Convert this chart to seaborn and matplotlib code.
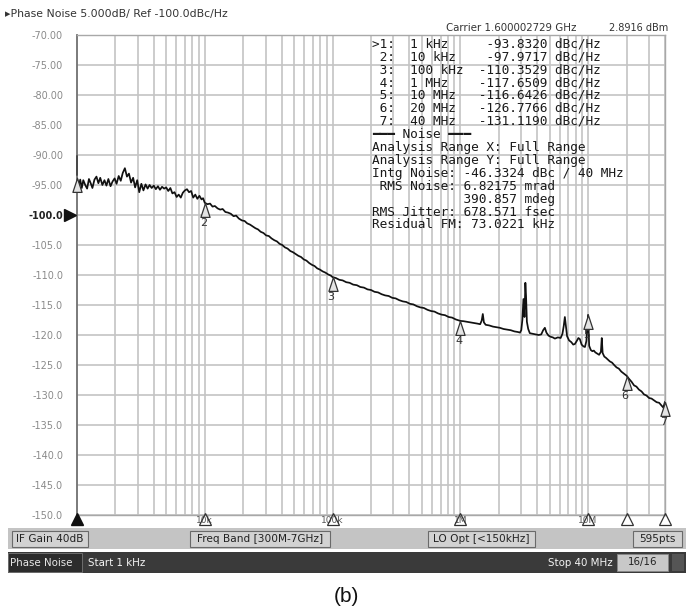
import numpy as np
import pandas as pd
import matplotlib
matplotlib.use("Agg")
import matplotlib.pyplot as plt
from matplotlib.patches import Rectangle
from matplotlib.markers import MarkerStyle
from matplotlib.path import Path
from matplotlib.ticker import FixedLocator, NullFormatter, LogLocator
import seaborn as sns

# ---------------- data ----------------
freq_khz = [
    1.00, 1.03, 1.06, 1.09, 1.12, 1.16, 1.20, 1.24, 1.28, 1.32, 1.37, 1.42, 1.47, 1.52,
    1.58, 1.64, 1.70, 1.76, 1.83, 1.90, 1.97, 2.04, 2.12, 2.20, 2.28, 2.37, 2.46, 2.55,
    2.65, 2.75, 2.85, 2.96, 3.07, 3.19, 3.31, 3.44, 3.57, 3.70, 3.84, 3.99, 4.14, 4.30,
    4.46, 4.63, 4.81, 4.99, 5.18, 5.38, 5.58, 5.80, 6.02, 6.25, 6.49, 6.73, 6.99, 7.26,
    7.53, 7.82, 8.12, 8.43, 8.75, 9.08, 9.43, 9.70, 10.0,
    10.5, 11.0, 11.5, 12.0, 12.6, 13.2, 13.8, 14.5, 15.2, 16.0, 16.8, 17.6, 18.5, 19.5,
    20.5, 21.5, 22.6, 23.7, 24.9, 26.1, 27.4, 28.8, 30.2, 31.7, 33.3, 35.0, 36.7, 38.5,
    40.4, 42.4, 44.5, 46.7, 49.0, 51.5, 54.0, 56.7, 59.5, 62.5, 65.6, 68.9, 72.3, 75.9,
    79.7, 83.7, 87.9, 92.3, 96.9, 100,
    106, 113, 120, 128, 136, 145, 155, 165, 176, 188, 200, 213, 227, 242, 258, 275, 293,
    312, 333, 355, 378, 403, 429, 457, 487, 519, 553, 589, 628, 669, 713, 760, 810, 863,
    920, 1000,
    1060, 1130, 1200, 1280, 1360, 1430, 1470, 1500, 1530, 1580, 1680, 1800, 1920, 2040,
    2180, 2330, 2480, 2650, 2820, 2930, 3000, 3060, 3120, 3180, 3230, 3270, 3320, 3400,
    3500, 3700, 3900, 4100, 4300, 4450, 4590, 4720, 4900, 5100, 5300, 5500, 5800, 6100,
    6300, 6450, 6580, 6700, 6850, 7100, 7400, 7650, 7880, 8150, 8400, 8630, 8900, 9200,
    9450, 9700, 10000, 10200, 10500,
    10800, 11100, 11400, 11800, 12200, 12600, 12800, 13000, 13400, 13800, 14300, 14800,
    15400, 16000, 16700, 17400, 18200, 19000, 20000, 20900, 21900, 22900, 23900, 25000,
    26200, 27400, 28700, 30000, 31400, 32900, 34400, 36000, 37700, 38800, 40000,
]
noise_dbc = [
    -93.8, -95.3, -94.1, -95.5, -94.2, -95.0, -95.6, -94.0, -94.7, -95.5, -94.1, -93.6, -94.7, -93.8,
    -95.0, -94.2, -95.1, -94.0, -95.2, -94.4, -93.9, -94.8, -93.5, -94.3, -93.0, -92.2, -93.6, -93.1,
    -94.6, -93.8, -95.4, -94.2, -96.2, -94.8, -95.9, -94.9, -95.6, -95.0, -95.5, -95.1, -95.7, -95.2,
    -95.8, -95.3, -95.6, -95.4, -96.0, -95.5, -96.4, -96.2, -97.0, -96.6, -97.1, -96.3, -95.9, -95.7,
    -96.2, -96.0, -97.1, -96.6, -97.3, -96.8, -97.4, -97.2, -97.97,
    -98.2, -98.1, -98.6, -98.5, -98.9, -99.1, -99.0, -99.5, -99.6, -99.8, -100.2, -100.1, -100.6, -100.9,
    -101.0, -101.4, -101.6, -101.9, -102.2, -102.4, -102.8, -103.0, -103.4, -103.5, -103.9, -104.2, -104.4, -104.8,
    -105.0, -105.4, -105.6, -106.0, -106.2, -106.5, -106.8, -107.0, -107.4, -107.6, -108.0, -108.3, -108.5, -108.9,
    -109.1, -109.4, -109.6, -109.9, -110.1, -110.35,
    -110.5, -110.8, -110.9, -111.2, -111.3, -111.6, -111.7, -112.0, -112.1, -112.4, -112.5, -112.8, -112.9, -113.2,
    -113.4, -113.5, -113.8, -113.9, -114.2, -114.4, -114.5, -114.8, -114.9, -115.2, -115.4, -115.5, -115.8, -116.0,
    -116.1, -116.4, -116.6, -116.7, -117.0, -117.1, -117.4, -117.65,
    -117.7, -117.8, -117.9, -118.0, -118.1, -118.2, -117.6, -116.5, -117.9, -118.3, -118.4, -118.6, -118.7, -118.8,
    -119.0, -119.1, -119.2, -119.4, -119.5, -119.6, -119.2, -117.5, -114.0, -117.0, -111.3, -113.5, -117.8, -119.0,
    -119.7, -119.8, -119.9, -120.0, -119.9, -119.2, -118.8, -119.6, -120.1, -120.3, -120.4, -120.6, -120.4, -120.5,
    -119.8, -118.5, -117.0, -118.5, -120.2, -120.9, -121.2, -121.6, -121.5, -121.0, -120.5, -120.7, -121.6, -121.9,
    -122.0, -121.0, -116.64, -121.8, -122.5,
    -122.7, -122.6, -122.9, -123.1, -123.3, -122.8, -120.5, -123.0, -123.6, -123.8, -124.1, -124.4,
    -124.6, -125.0, -125.4, -125.6, -126.1, -126.4, -126.78, -127.3, -127.8, -128.4, -128.6, -129.1,
    -129.4, -129.9, -130.1, -130.5, -130.6, -130.9, -131.2, -131.3, -131.8, -132.1, -131.12,
]

marker_ids = ["1", "2", "3", "4", "5", "6", "7"]
marker_freq_khz = [1, 10, 100, 1000, 10000, 20000, 40000]
marker_dbc = [-93.8320, -97.9717, -110.3529, -117.6509, -116.6426, -126.7766, -131.1190]
marker_freq_text = ["1 kHz", "10 kHz", "100 kHz", "1 MHz", "10 MHz", "20 MHz", "40 MHz"]
marker_val_text = ["-93.8320", "-97.9717", "-110.3529", "-117.6509", "-116.6426", "-126.7766", "-131.1190"]

y_ticks = [-70, -75, -80, -85, -90, -95, -100, -105, -110, -115, -120, -125, -130, -135, -140, -145, -150]
y_tick_labels = ["-70.00", "-75.00", "-80.00", "-85.00", "-90.00", "-95.00", "-100.0", "-105.0", "-110.0",
                 "-115.0", "-120.0", "-125.0", "-130.0", "-135.0", "-140.0", "-145.0", "-150.0"]
x_major_khz = [10, 100, 1000, 10000]
x_major_labels = ["10k", "100k", "1M", "10M"]

noise_lines = [
    "━━━ Noise ━━━",
    "Analysis Range X: Full Range",
    "Analysis Range Y: Full Range",
    "Intg Noise: -46.3324 dBc / 40 MHz",
    " RMS Noise: 6.82175 mrad",
    "            390.857 mdeg",
    "RMS Jitter: 678.571 fsec",
    "Residual FM: 73.0221 kHz",
]

header_text = "▸Phase Noise 5.000dB/ Ref -100.0dBc/Hz"
carrier_text = "Carrier 1.600002729 GHz"
power_text = "2.8916 dBm"
status_buttons = ["IF Gain 40dB", "Freq Band [300M-7GHz]", "LO Opt [<150kHz]", "595pts"]

# ---------------- figure ----------------
sns.set_theme(style="white")
plt.rcParams["font.family"] = ["DejaVu Sans"]

W, H = 692, 616
fig = plt.figure(figsize=(W / 100, H / 100), dpi=100)
fig.patch.set_facecolor("white")


def fx(x):
    return x / W


def fy(y):
    return 1 - y / H


ax = fig.add_axes([fx(77), fy(515), (665 - 77) / W, (515 - 35) / H])
ax.set_facecolor("white")

df = pd.DataFrame({"freq_khz": freq_khz, "noise_dbc": noise_dbc})
ax.set_xscale("log")
sns.lineplot(data=df, x="freq_khz", y="noise_dbc", ax=ax, color="#111111",
             linewidth=1.25, estimator=None, sort=False)
ax.set_xlim(1, 40000)
ax.set_ylim(-150, -70)
ax.set_xlabel("")
ax.set_ylabel("")

ax.xaxis.set_major_locator(FixedLocator(x_major_khz))
ax.set_xticklabels(x_major_labels)
ax.xaxis.set_minor_locator(LogLocator(base=10, subs=np.arange(2, 10), numticks=20))
ax.xaxis.set_minor_formatter(NullFormatter())
ax.set_yticks(y_ticks)
ax.set_yticklabels(y_tick_labels)
ax.tick_params(which="both", length=0)
ax.tick_params(axis="y", pad=10, labelsize=7, labelcolor="#8a8a8a")
ax.tick_params(axis="x", pad=1, labelsize=6.5, labelcolor="#555555")
for lab in ax.get_yticklabels():
    if lab.get_text() == "-100.0":
        lab.set_color("#222222")
        lab.set_fontweight("bold")

ax.grid(True, which="both", axis="x", color="#c4c4c4", linewidth=1.2)
ax.grid(True, which="major", axis="y", color="#c4c4c4", linewidth=1.2)
ax.set_axisbelow(True)
for name, sp in ax.spines.items():
    sp.set_color("#a8a8a8")
    sp.set_linewidth(1.0)
ax.spines["left"].set_color("#707070")
ax.spines["left"].set_linewidth(1.3)

# marker triangles (apex at trace point)
tri = MarkerStyle(Path([(0, 0), (-0.33, -1), (0.33, -1), (0, 0)],
                       [Path.MOVETO, Path.LINETO, Path.LINETO, Path.CLOSEPOLY]))
ax.plot(marker_freq_khz, marker_dbc, linestyle="none", marker=tri, markersize=20,
        markerfacecolor="#e4e4e4", markeredgecolor="#333333", markeredgewidth=0.9,
        clip_on=False, zorder=5)
for mid, mf, mv in zip(marker_ids, marker_freq_khz, marker_dbc):
    if mid == "1":
        ax.annotate("", xy=(mf, mv), xytext=(0, 18), textcoords="offset points",
                    arrowprops=dict(arrowstyle="-", color="#333333", lw=1.0),
                    annotation_clip=False)
        continue
    ax.annotate(mid, xy=(mf, mv), xytext=(-1, -11), textcoords="offset points",
                ha="center", va="top", fontsize=8, color="#333333",
                annotation_clip=False, zorder=6)

# bottom marker position indicators
xt = ax.get_xaxis_transform()
ax.plot([marker_freq_khz[0]], [-0.008], transform=xt, linestyle="none", marker="^",
        markersize=9, color="#111111", clip_on=False, zorder=6)
ax.plot(marker_freq_khz[1:], [-0.008] * 6, transform=xt, linestyle="none", marker="^",
        markersize=9, markerfacecolor="none", markeredgecolor="#333333",
        markeredgewidth=0.9, clip_on=False, zorder=6)

# reference level indicator
ax.plot([-0.012], [-100], transform=ax.get_yaxis_transform(), linestyle="none",
        marker=">", markersize=8, color="#111111", clip_on=False, zorder=6)

# ---------------- header texts ----------------
fig.text(fx(5), fy(14), header_text, fontsize=7.8, color="#333333", va="center", ha="left")
fig.text(fx(577), fy(28), carrier_text, fontsize=7.4, color="#333333", va="center", ha="right")
fig.text(fx(668), fy(28), power_text, fontsize=7, color="#333333", va="center", ha="right")

mono = "DejaVu Sans Mono"
y0 = 44
dy = 12.85
for i, (mid, ft, vt) in enumerate(zip(marker_ids, marker_freq_text, marker_val_text)):
    lab = (">" + mid + ":") if mid == "1" else (" " + mid + ":")
    line = f"{lab}  {ft:<9}{vt:>9} dBc/Hz"
    fig.text(fx(372), fy(y0 + i * dy), line, family=mono, fontsize=9.2,
             color="#1a1a1a", va="center", ha="left")
for j, line in enumerate(noise_lines):
    fig.text(fx(372), fy(y0 + (7 + j) * dy + 1), line, family=mono, fontsize=9.2,
             color="#1a1a1a", va="center", ha="left")

# ---------------- status bars ----------------
def frect(x0, y0_, x1, y1, **kw):
    r = Rectangle((fx(x0), fy(y1)), (x1 - x0) / W, (y1 - y0_) / H,
                  transform=fig.transFigure, **kw)
    fig.add_artist(r)
    return r


frect(8, 528, 686, 549, facecolor="#c4c4c4", edgecolor="none")
btn_spans = [(12, 88), (190, 330), (428, 535), (633, 682)]
for (bx0, bx1), txt in zip(btn_spans, status_buttons):
    frect(bx0, 530.5, bx1, 547, facecolor="#d2d2d2", edgecolor="#6a6a6a", linewidth=0.8)
    fig.text(fx((bx0 + bx1) / 2), fy(539), txt, fontsize=7.6, color="#222222",
             ha="center", va="center")

frect(8, 552, 686, 573, facecolor="#3a3a3a", edgecolor="none")
frect(8, 553, 82, 572, facecolor="#2c2c2c", edgecolor="#777777", linewidth=0.6)
fig.text(fx(10), fy(562.5), "Phase Noise", fontsize=7.4, color="#e8e8e8", ha="left", va="center")
fig.text(fx(88), fy(562.5), "Start 1 kHz", fontsize=7.4, color="#f4f4f4", ha="left", va="center")
fig.text(fx(613), fy(562.5), "Stop 40 MHz", fontsize=7.4, color="#f4f4f4", ha="right", va="center")
frect(617, 554, 668, 571, facecolor="#c8c8c8", edgecolor="#888888", linewidth=0.6)
fig.text(fx(642.5), fy(562.5), "16/16", fontsize=7.4, color="#222222", ha="center", va="center")
frect(672, 554, 684, 571, facecolor="#555555", edgecolor="none")

fig.text(fx(346), fy(596), "(b)", fontsize=15, color="#111111", ha="center", va="center",
         family="Liberation Sans")

fig.savefig("out.png", dpi=100)
